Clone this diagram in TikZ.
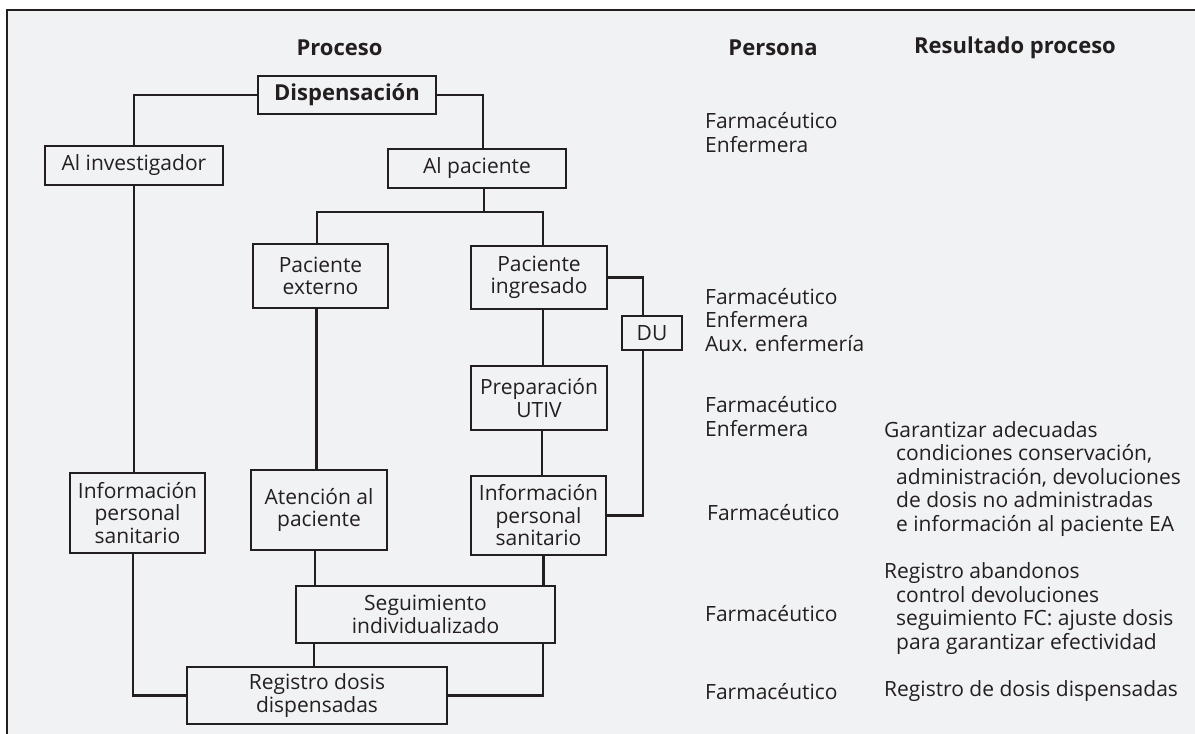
\documentclass[tikz,border=0pt]{standalone}
\usepackage{fontspec}
\setmainfont{Open Sans}
\definecolor{bgc}{RGB}{241,242,244}
\definecolor{ink}{RGB}{35,31,32}
\begin{document}
\begin{tikzpicture}[x=1pt,y=-1pt,
  every node/.style={text=ink, font=\fontsize{21}{22.5}\selectfont},
  box/.style={draw=ink, line width=2.4pt, rectangle, inner sep=0pt, align=center},
  conn/.style={draw=ink, line width=2.4pt},
  hdr/.style={font=\fontsize{22}{24}\selectfont\bfseries},
  col/.style={anchor=west, align=left, inner sep=0pt, font=\fontsize{21}{23.5}\selectfont}]
\useasboundingbox (0,0) rectangle (1195,734);
\fill[white] (0,0) rectangle (1195,734);
\fill[bgc] (7,10) rectangle (1195,734);
\draw[ink, line width=2.2pt] (7,734) -- (7,10) -- (1195,10);

% headers
\node[hdr] (h1) at (339.5,48) {Proceso};
\node[hdr] (h2) at (773,48) {Persona};
\node[hdr] (h3) at (1015,48) {Resultado proceso};

% boxes
\node[box, minimum width=178pt, minimum height=38pt, font=\fontsize{22}{22.5}\selectfont\bfseries] (disp) at (347,95) {Dispensación};
\node[box, minimum width=178pt, minimum height=39pt] (alinv) at (134,165.5) {Al investigador};
\node[box, minimum width=178pt, minimum height=39pt] (ap) at (477,168.5) {Al paciente};
\node[box, minimum width=135pt, minimum height=64pt] (pe) at (320.5,276) {Paciente\\externo};
\node[box, minimum width=136pt, minimum height=63pt] (pi) at (539,277.5) {Paciente\\ingresado};
\node[box, minimum width=60pt, minimum height=34pt] (du) at (652,333) {DU};
\node[box, minimum width=136pt, minimum height=64pt] (prep) at (539,398) {Preparación\\UTIV};
\node[box, minimum width=135pt, minimum height=79pt] (infr) at (538.5,515.5) {Información\\personal\\sanitario};
\node[box, minimum width=136pt, minimum height=80pt] (aten) at (319,510) {Atención al\\paciente};
\node[box, minimum width=135pt, minimum height=80pt] (infl) at (137.5,513) {Información\\personal\\sanitario};
\node[box, minimum width=259pt, minimum height=57pt] (seg) at (425.5,614.5) {Seguimiento\\individualizado};
\node[box, minimum width=260pt, minimum height=57pt] (reg) at (317,695.5) {Registro dosis\\dispensadas};

% connectors
\coordinate (jp) at (484,212);
\draw[conn] (disp.west) -| (alinv.north);
\draw[conn] (disp.east) -| ([xshift=6pt]ap.north);
\draw[conn] ([xshift=7pt]ap.south) -- (jp);
\draw[conn] ([xshift=-3.5pt]pe.north) |- (jp) -| ([xshift=4pt]pi.north);
\draw[conn] (pi.east) -| ([xshift=-9pt]du.north);
\draw[conn] ([xshift=-9pt]du.south) |- (infr.east);
\draw[conn] ([xshift=4pt]pi.south) -- ([xshift=4pt]pi.south |- prep.north);
\draw[conn] ([xshift=3pt]prep.south) -- ([xshift=3pt]prep.south |- infr.north);
\draw[conn] ([xshift=5pt]infr.south) -- ([xshift=5pt]infr.south |- seg.north);
\draw[conn] ([xshift=-4pt]pe.south) -- ([xshift=-4pt]pe.south |- aten.north);
\draw[conn] ([xshift=-4pt]aten.south) -- ([xshift=-4pt]aten.south |- seg.north);
\draw[conn] ([xshift=-3pt]reg.north) -- ([xshift=-3pt]reg.north |- seg.south);
\draw[conn] ([xshift=117.5pt]seg.south) |- (reg.east);
\draw[conn] (alinv.south) -- (alinv.south |- infl.north);
\draw[conn] ([xshift=-4.5pt]infl.south) |- (reg.west);

% Persona column
\node[col] (p1) at (705,132.5) {Farmacéutico\\Enfermera};
\node[col] (p2) at (705,320) {Farmacéutico\\Enfermera\\Aux. enfermería};
\node[col] (p3) at (705,416.5) {Farmacéutico\\Enfermera};
\node[col] (p4) at (707,513) {Farmacéutico};
\node[col] (p5) at (705,614) {Farmacéutico};
\node[col] (p6) at (705,692) {Farmacéutico};

% Resultado column
\node[col] (r1) at (884,479) {Garantizar adecuadas\\\hspace*{12pt}condiciones conservación,\\\hspace*{12pt}administración, devoluciones\\\hspace*{12pt}de dosis no administradas\\\hspace*{12pt}e información al paciente EA};
\node[col] (r2) at (884,608.5) {Registro abandonos\\\hspace*{12pt}control devoluciones\\\hspace*{12pt}seguimiento FC: ajuste dosis\\\hspace*{12pt}para garantizar efectividad};
\node[col] (r3) at (884,691) {Registro de dosis dispensadas};
\end{tikzpicture}
\end{document}
